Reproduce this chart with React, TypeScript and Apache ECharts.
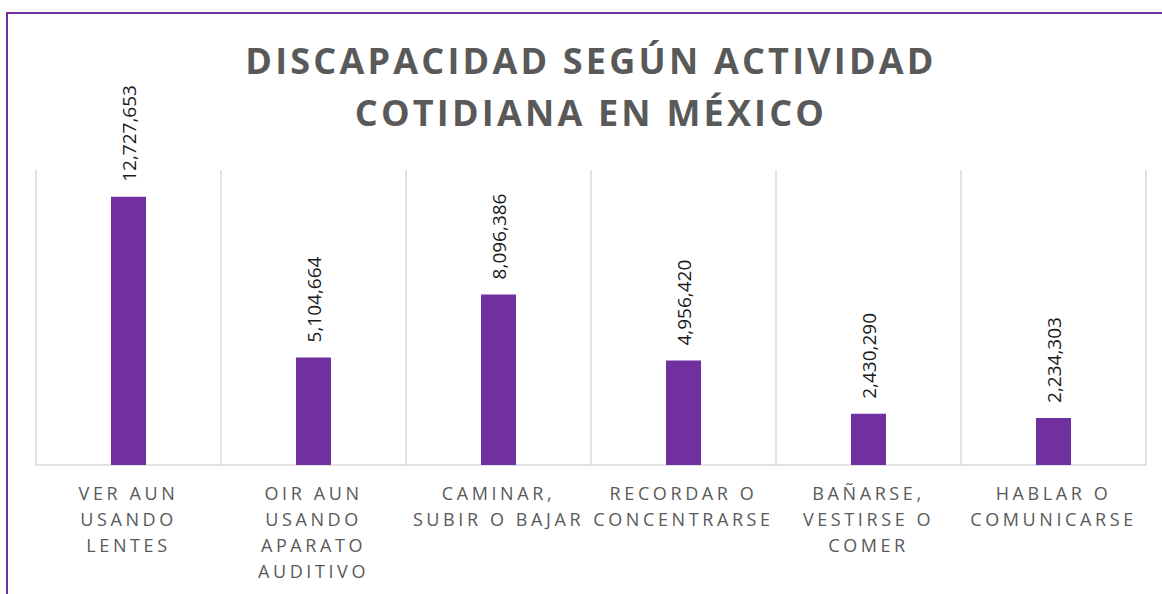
import React, { useEffect, useRef } from "react";
import * as echarts from "echarts";

const categories = [
  "VER AUN\nUSANDO\nLENTES",
  "OIR AUN\nUSANDO\nAPARATO\nAUDITIVO",
  "CAMINAR,\nSUBIR O BAJAR",
  "RECORDAR O\nCONCENTRARSE",
  "BAÑARSE,\nVESTIRSE O\nCOMER",
  "HABLAR O\nCOMUNICARSE",
];
const values = [12727653, 5104664, 8096386, 4956420, 2430290, 2234303];
const titleLines = ["DISCAPACIDAD SEGÚN ACTIVIDAD", "COTIDIANA EN MÉXICO"];
const yMax = 14000000;

const css = `
.chartbox text[style*="Lato"] { letter-spacing: 3.6px; }
.chartbox text[style*="Inter"] { letter-spacing: 3.2px; }
`;

export default function App() {
  const ref = useRef<HTMLDivElement>(null);
  useEffect(() => {
    const chart = echarts.init(ref.current!, undefined, { renderer: "svg" });
    chart.setOption({
      animation: false,
      backgroundColor: "#ffffff",
      grid: { left: 36, right: 16, top: 170, bottom: 129, containLabel: false },
      xAxis: {
        type: "category",
        data: categories,
        boundaryGap: true,
        axisLine: { show: true, lineStyle: { color: "#d9d9d9", width: 1.5 } },
        axisTick: { show: false },
        splitLine: { show: true, lineStyle: { color: "#d9d9d9", width: 1.5 } },
        axisLabel: {
          interval: 0,
          color: "#595959",
          fontSize: 18,
          fontFamily: "'Open Sans', Lato",
          lineHeight: 26,
          margin: 15,
        },
      },
      yAxis: {
        type: "value",
        min: 0,
        max: yMax,
        show: false,
        splitLine: { show: false },
      },
      series: [
        {
          type: "bar",
          data: values,
          barWidth: 35,
          itemStyle: { color: "#7030a0" },
          label: {
            show: true,
            position: "top",
            rotate: 90,
            align: "left",
            verticalAlign: "middle",
            distance: 15,
            color: "#1a1a1a",
            fontSize: 19,
            fontFamily: "'Open Sans'",
            formatter: (p: any) => Number(p.value).toLocaleString("en-US"),
          },
        },
      ],
      graphic: [
        {
          type: "rect",
          silent: true,
          z: -1,
          shape: { x: 7, y: 13, width: 1200, height: 700 },
          style: { fill: "none", stroke: "#7030a0", lineWidth: 2 },
        },
        {
          type: "text",
          silent: true,
          x: 591,
          y: 86,
          style: {
            text: titleLines.join("\n"),
            textAlign: "center",
            textVerticalAlign: "middle",
            align: "center",
            verticalAlign: "middle",
            fontSize: 36,
            fontWeight: "bold",
            fontFamily: "'Open Sans', Inter",
            lineHeight: 52,
            fill: "#595959",
          },
        },
      ],
    });
    return () => chart.dispose();
  }, []);
  return (
    <div
      style={{
        position: "fixed",
        left: 0,
        top: 0,
        width: 1162,
        height: 594,
        background: "#fff",
        overflow: "hidden",
      }}
    >
      <style>{css}</style>
      <div ref={ref} className="chartbox" style={{ width: 1162, height: 594 }} />
    </div>
  );
}
